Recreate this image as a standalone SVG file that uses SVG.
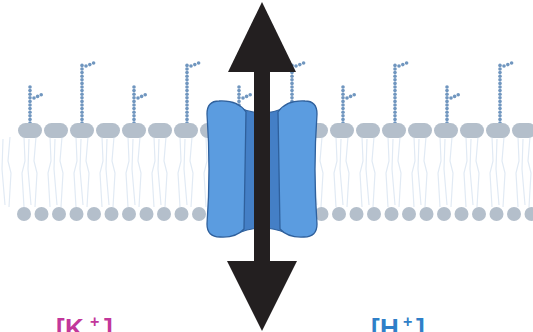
<svg xmlns="http://www.w3.org/2000/svg" xmlns:xlink="http://www.w3.org/1999/xlink" width="533" height="332" viewBox="0 0 533 332">
  <style>
    .head { fill: #b4bfcb; }
    .tail { fill: none; stroke: #e1eaf4; stroke-width: 1.2; }
    .sugar { fill: #7096bf; }
    .lobe { fill: #5b9ce0; stroke: #2f609c; stroke-width: 1.3; }
    .pore { fill: #447fc6; stroke: #2f609c; stroke-width: 1.1; }
    .arrow { fill: #231f20; }
    .ion { font-family: "Liberation Sans", Arial, sans-serif; font-weight: bold; font-size: 26px; }
    .sup { font-size: 16px; }
  </style>
  <defs>
    <!-- pair of fatty acid tails, origin at head centre -->
    <g id="tails" class="tail">
      <path d="M -6 6 L -5 30 L -8 42 L -6 76"/>
      <path d="M 6 6 L 4 30 L 7 42 L 5 76"/>
      <path d="M -1 8 L -2 38 L 1 74"/>
    </g>
    <!-- short glycan chain, origin at top of head -->
    <g id="glyShort" class="sugar">
      <circle cx="0" cy="0" r="1.8"/>
      <circle cx="0" cy="-3.6" r="1.8"/>
      <circle cx="0" cy="-7.2" r="1.8"/>
      <circle cx="0" cy="-10.8" r="1.8"/>
      <circle cx="0" cy="-14.4" r="1.8"/>
      <circle cx="0" cy="-18" r="1.8"/>
      <circle cx="0" cy="-21.6" r="1.8"/>
      <circle cx="0" cy="-25.2" r="1.8"/>
      <circle cx="0" cy="-28.8" r="1.8"/>
      <circle cx="0" cy="-32.4" r="1.8"/>
      <circle cx="0" cy="-36" r="1.8"/>
      <circle cx="4" cy="-25" r="1.8"/>
      <circle cx="7.6" cy="-26.6" r="1.8"/>
      <circle cx="11.2" cy="-28.2" r="1.8"/>
    </g>
    <!-- tall glycan chain, origin at top of head -->
    <g id="glyTall" class="sugar">
      <circle cx="0" cy="0" r="1.8"/>
      <circle cx="0" cy="-3.6" r="1.8"/>
      <circle cx="0" cy="-7.2" r="1.8"/>
      <circle cx="0" cy="-10.8" r="1.8"/>
      <circle cx="0" cy="-14.4" r="1.8"/>
      <circle cx="0" cy="-18" r="1.8"/>
      <circle cx="0" cy="-21.6" r="1.8"/>
      <circle cx="0" cy="-25.2" r="1.8"/>
      <circle cx="0" cy="-28.8" r="1.8"/>
      <circle cx="0" cy="-32.4" r="1.8"/>
      <circle cx="0" cy="-36" r="1.8"/>
      <circle cx="0" cy="-39.6" r="1.8"/>
      <circle cx="0" cy="-43.2" r="1.8"/>
      <circle cx="0" cy="-46.8" r="1.8"/>
      <circle cx="0" cy="-50.4" r="1.8"/>
      <circle cx="0" cy="-54" r="1.8"/>
      <circle cx="0" cy="-57.6" r="1.8"/>
      <circle cx="4" cy="-57" r="1.8"/>
      <circle cx="7.8" cy="-58.4" r="1.8"/>
      <circle cx="11.6" cy="-60" r="1.8"/>
    </g>
    <rect id="outerHead" class="head" x="-12" y="-7.5" width="24" height="15" rx="7.5"/>
    <circle id="innerHead" class="head" r="7"/>
  </defs>

  <rect width="533" height="332" fill="#ffffff"/>

  <!-- lipid bilayer -->
  <g id="membrane">
    <g id="tailsRow">
      <use xlink:href="#tails" x="30" y="131"/><use xlink:href="#tails" x="56" y="131"/>
      <use xlink:href="#tails" x="82" y="131"/><use xlink:href="#tails" x="108" y="131"/>
      <use xlink:href="#tails" x="134" y="131"/><use xlink:href="#tails" x="160" y="131"/>
      <use xlink:href="#tails" x="186" y="131"/><use xlink:href="#tails" x="212" y="131"/>
      <use xlink:href="#tails" x="238" y="131"/><use xlink:href="#tails" x="264" y="131"/>
      <use xlink:href="#tails" x="290" y="131"/><use xlink:href="#tails" x="316" y="131"/>
      <use xlink:href="#tails" x="342" y="131"/><use xlink:href="#tails" x="368" y="131"/>
      <use xlink:href="#tails" x="394" y="131"/><use xlink:href="#tails" x="420" y="131"/>
      <use xlink:href="#tails" x="446" y="131"/><use xlink:href="#tails" x="472" y="131"/>
      <use xlink:href="#tails" x="498" y="131"/><use xlink:href="#tails" x="524" y="131"/>
      <use xlink:href="#tails" x="4" y="131"/>
    </g>
    <g id="glycans">
      <use xlink:href="#glyShort" x="30" y="123"/>
      <use xlink:href="#glyTall" x="82" y="123"/>
      <use xlink:href="#glyShort" x="134" y="123"/>
      <use xlink:href="#glyTall" x="187" y="123"/>
      <use xlink:href="#glyShort" x="239" y="123"/>
      <use xlink:href="#glyTall" x="292" y="123"/>
      <use xlink:href="#glyShort" x="343" y="123"/>
      <use xlink:href="#glyTall" x="395" y="123"/>
      <use xlink:href="#glyShort" x="447" y="123"/>
      <use xlink:href="#glyTall" x="500" y="123"/>
    </g>
    <g id="outerLeaflet">
      <use xlink:href="#outerHead" x="30" y="130.5"/><use xlink:href="#outerHead" x="56" y="130.5"/>
      <use xlink:href="#outerHead" x="82" y="130.5"/><use xlink:href="#outerHead" x="108" y="130.5"/>
      <use xlink:href="#outerHead" x="134" y="130.5"/><use xlink:href="#outerHead" x="160" y="130.5"/>
      <use xlink:href="#outerHead" x="186" y="130.5"/><use xlink:href="#outerHead" x="212" y="130.5"/>
      <use xlink:href="#outerHead" x="238" y="130.5"/><use xlink:href="#outerHead" x="264" y="130.5"/>
      <use xlink:href="#outerHead" x="290" y="130.5"/><use xlink:href="#outerHead" x="316" y="130.5"/>
      <use xlink:href="#outerHead" x="342" y="130.5"/><use xlink:href="#outerHead" x="368" y="130.5"/>
      <use xlink:href="#outerHead" x="394" y="130.5"/><use xlink:href="#outerHead" x="420" y="130.5"/>
      <use xlink:href="#outerHead" x="446" y="130.5"/><use xlink:href="#outerHead" x="472" y="130.5"/>
      <use xlink:href="#outerHead" x="498" y="130.5"/><use xlink:href="#outerHead" x="524" y="130.5"/>
    </g>
    <g id="innerLeaflet">
      <use xlink:href="#innerHead" x="24" y="214"/><use xlink:href="#innerHead" x="41.5" y="214"/>
      <use xlink:href="#innerHead" x="59" y="214"/><use xlink:href="#innerHead" x="76.5" y="214"/>
      <use xlink:href="#innerHead" x="94" y="214"/><use xlink:href="#innerHead" x="111.5" y="214"/>
      <use xlink:href="#innerHead" x="129" y="214"/><use xlink:href="#innerHead" x="146.5" y="214"/>
      <use xlink:href="#innerHead" x="164" y="214"/><use xlink:href="#innerHead" x="181.5" y="214"/>
      <use xlink:href="#innerHead" x="199" y="214"/><use xlink:href="#innerHead" x="216.5" y="214"/>
      <use xlink:href="#innerHead" x="234" y="214"/><use xlink:href="#innerHead" x="251.5" y="214"/>
      <use xlink:href="#innerHead" x="269" y="214"/><use xlink:href="#innerHead" x="286.5" y="214"/>
      <use xlink:href="#innerHead" x="304" y="214"/><use xlink:href="#innerHead" x="321.5" y="214"/>
      <use xlink:href="#innerHead" x="339" y="214"/><use xlink:href="#innerHead" x="356.5" y="214"/>
      <use xlink:href="#innerHead" x="374" y="214"/><use xlink:href="#innerHead" x="391.5" y="214"/>
      <use xlink:href="#innerHead" x="409" y="214"/><use xlink:href="#innerHead" x="426.5" y="214"/>
      <use xlink:href="#innerHead" x="444" y="214"/><use xlink:href="#innerHead" x="461.5" y="214"/>
      <use xlink:href="#innerHead" x="479" y="214"/><use xlink:href="#innerHead" x="496.5" y="214"/>
      <use xlink:href="#innerHead" x="514" y="214"/><use xlink:href="#innerHead" x="531.5" y="214"/>
    </g>
  </g>

  <!-- ion channel -->
  <g id="channel">
    <path class="pore" d="M 238 107 Q 262 119 286 107 L 286 233 Q 262 223 238 233 Z"/>
    <path class="lobe" d="M 219 101 Q 238 100 246 112 L 244 229 Q 236 238 220 237 Q 207 237 207 224 Q 211 170 207 114 Q 207 101 219 101 Z"/>
    <path class="lobe" d="M 305 101 Q 286 100 278 112 L 280 229 Q 288 238 304 237 Q 317 237 317 224 Q 313 170 317 114 Q 317 101 305 101 Z"/>
  </g>

  <!-- double-headed transport arrow -->
  <g id="connectors">
    <rect class="arrow" x="254" y="70" width="16" height="193"/>
    <polygon class="arrow" points="262,2 228,72 296,72"/>
    <polygon class="arrow" points="227,261 297,261 262,331"/>
  </g>

  <!-- ion labels -->
  <g id="label-k">
    <text class="ion" y="337" fill="#c2379b"><tspan x="56">[</tspan><tspan x="65">K</tspan><tspan class="sup" x="90" y="327">+</tspan><tspan x="104" y="337">]</tspan></text>
  </g>
  <g id="label-h">
    <text class="ion" y="337" fill="#2f7fc8"><tspan x="371">[</tspan><tspan x="380">H</tspan><tspan class="sup" x="403" y="327">+</tspan><tspan x="416" y="337">]</tspan></text>
  </g>
</svg>
